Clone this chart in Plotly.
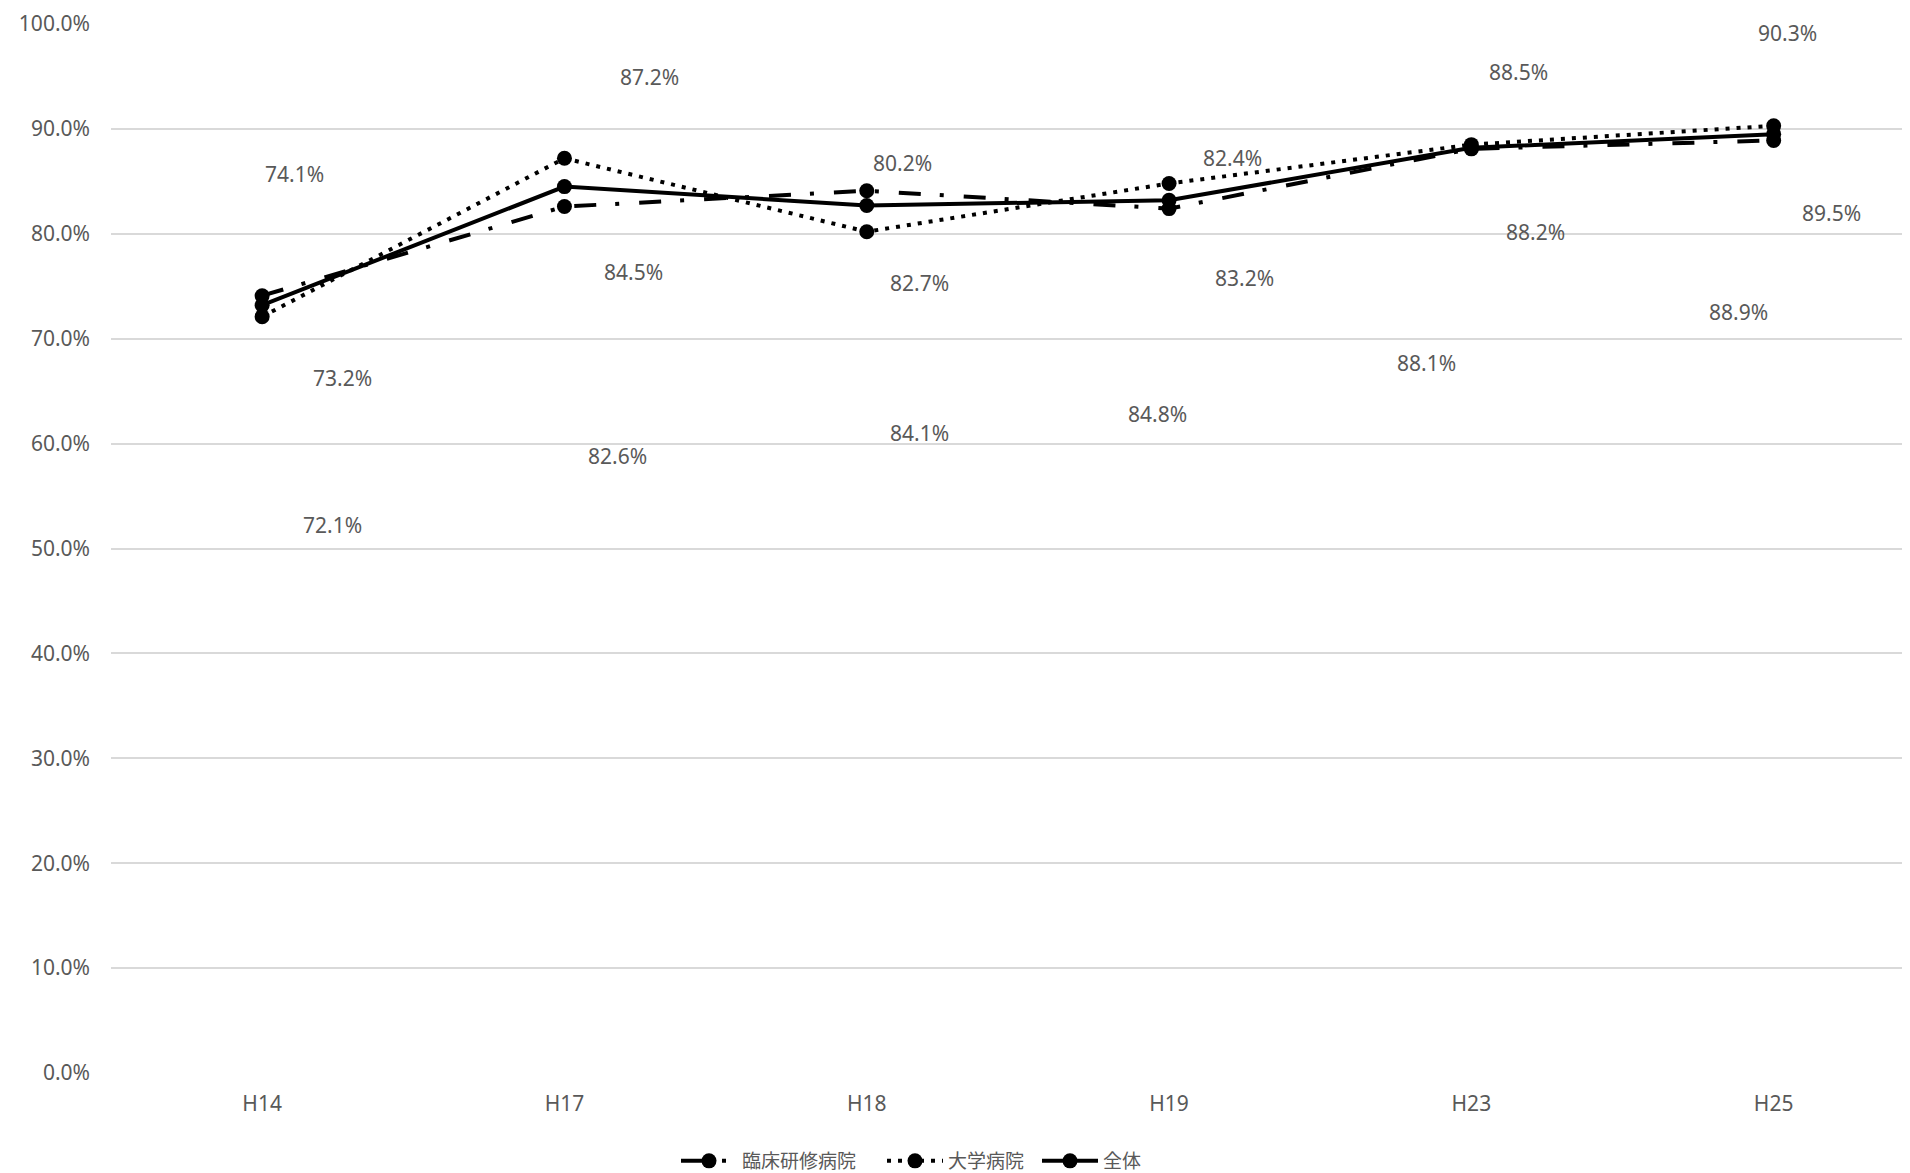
import plotly.graph_objects as go

categories = ["H14", "H17", "H18", "H19", "H23", "H25"]
rinsho = [74.1, 82.6, 84.1, 82.4, 88.1, 88.9]   # 臨床研修病院
daigaku = [72.1, 87.2, 80.2, 84.8, 88.5, 90.3]  # 大学病院
zentai = [73.2, 84.5, 82.7, 83.2, 88.2, 89.5]   # 全体
y_ticks = [0, 10, 20, 30, 40, 50, 60, 70, 80, 90, 100]

# label offsets in pixels (style only): (dx, dy-down)
off_rinsho = [(32, -122), (53, 249), (53, 242), (63, -51), (-45, 214), (-35, 172)]
off_daigaku = [(70, 208), (85, -81), (36, -69), (-12, 231), (47, -73), (14, -93)]
off_zentai = [(80, 73), (69, 85), (53, 78), (75, 78), (64, 84), (58, 79)]

FONT = "Noto Sans, Noto Sans CJK JP, sans-serif"
GRAY = "#595959"
PLOT_L = 111.0
PLOT_W = 1799.0
PLOT_H = 1049.0

fig = go.Figure()
series = [
    ("臨床研修病院", rinsho, "22px,19px,4px,20px", off_rinsho, "legend", 684),
    ("大学病院", daigaku, "4px,7px", off_daigaku, "legend2", 890),
    ("全体", zentai, "solid", off_zentai, "legend3", 1045),
]
legends = {}
for name, vals, dash, offs, lg, lx in series:
    fig.add_trace(go.Scatter(
        x=categories, y=vals, name=name, mode="lines+markers",
        line=dict(color="black", width=4, dash=dash),
        marker=dict(color="black", size=15),
        legend=lg,
    ))
    legends[lg] = dict(
        orientation="h", x=(lx - 8 - PLOT_L) / PLOT_W, xanchor="left",
        y=-(1153 - 16 - PLOT_H) / PLOT_H, yanchor="middle",
        font=dict(family=FONT, size=19, color=GRAY), itemwidth=56,
        bgcolor="rgba(0,0,0,0)",
    )

annotations = []
for name, vals, dash, offs, lg, lx in series:
    for c, v, (dx, dy) in zip(categories, vals, offs):
        annotations.append(dict(
            x=c, y=v, xref="x", yref="y", text=f"{v:.1f}%", showarrow=False,
            xshift=dx, yshift=-dy, font=dict(family=FONT, size=21, color=GRAY),
        ))

fig.update_layout(
    width=1902, height=1165,
    margin=dict(l=103, r=0, t=16, b=100, autoexpand=False),
    paper_bgcolor="white", plot_bgcolor="white",
    font=dict(family=FONT, size=21, color=GRAY),
    showlegend=True,
    annotations=annotations,
    shapes=[dict(type="line", xref="paper", yref="paper", x0=-0.0611, x1=-0.0611, y0=-0.1, y1=1.03,
                 line=dict(color="#d9d9d9", width=1.5))],
    **legends,
)
fig.update_xaxes(
    type="category", range=[-0.5, 5.451], showgrid=False, showline=False, zeroline=False,
    ticks="", tickfont=dict(family=FONT, size=21, color=GRAY), ticklabelstandoff=16,
)
fig.update_yaxes(
    range=[0, 100], tickvals=y_ticks, ticktext=[f"{t:.1f}%" for t in y_ticks],
    showgrid=True, gridcolor="#d9d9d9", gridwidth=1.5, zeroline=False, showline=False,
    ticks="", tickfont=dict(family=FONT, size=21, color=GRAY), ticklabelstandoff=20,
)
fig.write_html("out.html")
